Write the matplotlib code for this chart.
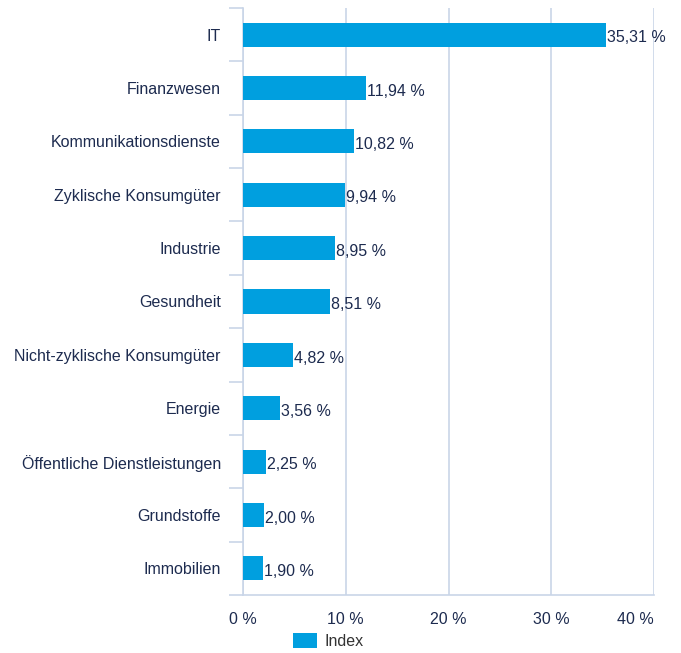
import numpy as np
import matplotlib
matplotlib.use("Agg")
import matplotlib.pyplot as plt
from matplotlib.ticker import FixedLocator

categories = [
    "IT", "Finanzwesen", "Kommunikationsdienste", "Zyklische Konsumgüter",
    "Industrie", "Gesundheit", "Nicht-zyklische Konsumgüter", "Energie",
    "Öffentliche Dienstleistungen", "Grundstoffe", "Immobilien",
]
values = [35.31, 11.94, 10.82, 9.94, 8.95, 8.51, 4.82, 3.56, 2.25, 2.00, 1.90]
xticks = [0, 10, 20, 30, 40]
series_name = "Index"

BAR_COLOR = "#009fdf"
TEXT_COLOR = "#1d2b4f"
GRID_COLOR = "#c9d5e8"
FS = 11.5

plt.rcParams["font.family"] = ["Liberation Sans", "DejaVu Sans"]

fig = plt.figure(figsize=(6.81, 6.53), dpi=100)
ax = fig.add_axes([243 / 681, 1 - 595 / 653, (654 - 243) / 681, (595 - 8) / 653])

y = np.arange(len(categories))
ax.barh(y, values, height=0.45, color=BAR_COLOR, label=series_name, zorder=3)
for yi, v in zip(y, values):
    ax.text(v + 0.1, yi + 0.06, f"{v:.2f} %".replace(".", ","), va="center", ha="left",
            fontsize=FS, color=TEXT_COLOR, zorder=4)

ax.set_ylim(len(categories) - 0.5, -0.5)
ax.set_xlim(0, 40)
ax.set_yticks(y)
ax.set_yticklabels(categories)
ax.yaxis.set_minor_locator(FixedLocator(np.arange(-0.5, len(categories), 1.0)))
ax.tick_params(axis="y", which="major", length=0, pad=16, labelsize=FS, labelcolor=TEXT_COLOR)
ax.tick_params(axis="y", which="minor", length=10, width=1.2, color=GRID_COLOR)

ax.set_xticks(xticks)
ax.set_xticklabels([f"{t} %" for t in xticks])
ax.tick_params(axis="x", length=0, pad=12, labelsize=FS, labelcolor=TEXT_COLOR)
ax.get_xticklabels()[-1].set_horizontalalignment("right")
ax.grid(axis="x", color=GRID_COLOR, linewidth=1.2, zorder=0)

for side in ["top", "right"]:
    ax.spines[side].set_visible(False)
for side in ["left", "bottom"]:
    ax.spines[side].set_color(GRID_COLOR)
    ax.spines[side].set_linewidth(1.2)

fig.legend(loc="center left", bbox_to_anchor=(293 / 681, 1 - 641 / 653), frameon=False,
           borderaxespad=0, borderpad=0, fontsize=FS, handlelength=1.5,
           handleheight=1.05, handletextpad=0.45, labelcolor="#333333")

fig.savefig("out.png", dpi=100)
